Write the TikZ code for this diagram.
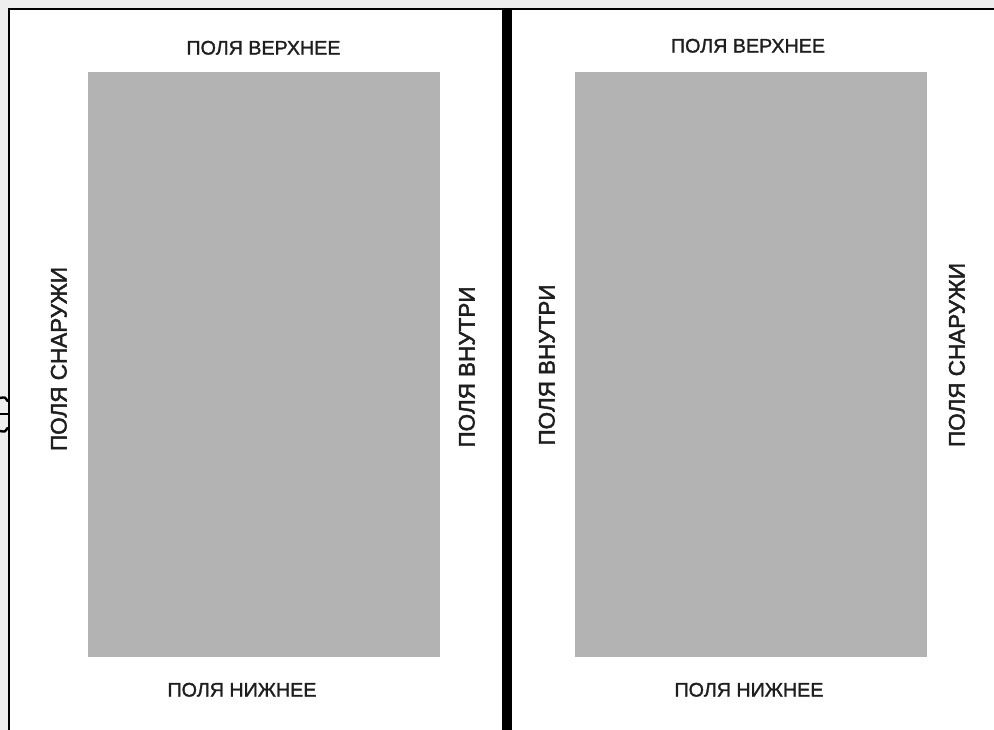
\documentclass[tikz,border=0pt]{standalone}
\usepackage{fontspec}
\setmainfont{Liberation Sans}
\newfontfamily\hlblfont[FakeBold=1.4]{Liberation Sans}
\newfontfamily\vlblfont[FakeBold=2.0]{Liberation Sans}
\definecolor{bgc}{HTML}{EEEEEE}
\definecolor{areac}{HTML}{B3B3B3}
\definecolor{txtc}{HTML}{1E1E1E}
\begin{document}
\begin{tikzpicture}[x=1pt,y=-1pt,
  lbl/.style={inner sep=0pt, text height=0.716em, text depth=0pt, text=txtc, font=\hlblfont\fontsize{19.7}{22}\selectfont},
  vlbl/.style={lbl, rotate=90, font=\vlblfont\fontsize{22.5}{25}\selectfont},
  area/.style={fill=areac},
  frame/.style={line width=2pt, draw=black}]
\useasboundingbox (0,0) rectangle (994,730);
\fill[bgc] (0,0) rectangle (994,730);
\fill[white] (9,9.5) rectangle (994,730);
\draw[frame] (9,730) -- (9,9.5) -- (994,9.5);
% partial glyph at the left edge
\draw[line width=2.4pt, line cap=round] (0,398) .. controls (5,397) .. (7.5,401);
\draw[line width=2.4pt] (0,414) -- (7.5,414);
\draw[line width=2.4pt, line cap=round] (0,431) .. controls (5,432) .. (7.5,428);
% spine
\fill[black] (502,9) rectangle (512,730);
% text areas
\fill[area] (88,72) rectangle (440,657);
\fill[area] (575,72) rectangle (927,657);
% labels left page
\node[lbl] (ltop) at (263.5,51) {ПОЛЯ ВЕРХНЕЕ};
\node[lbl] (lbot) at (242,693) {ПОЛЯ НИЖНЕЕ};
\node[vlbl] (lout) at (63,359) {ПОЛЯ СНАРУЖИ};
\node[vlbl] (lin) at (471,367) {ПОЛЯ ВНУТРИ};
% labels right page
\node[lbl] (rtop) at (748,49) {ПОЛЯ ВЕРХНЕЕ};
\node[lbl] (rbot) at (749,693) {ПОЛЯ НИЖНЕЕ};
\node[vlbl] (rin) at (551,365) {ПОЛЯ ВНУТРИ};
\node[vlbl] (rout) at (961,355) {ПОЛЯ СНАРУЖИ};
\end{tikzpicture}
\end{document}
